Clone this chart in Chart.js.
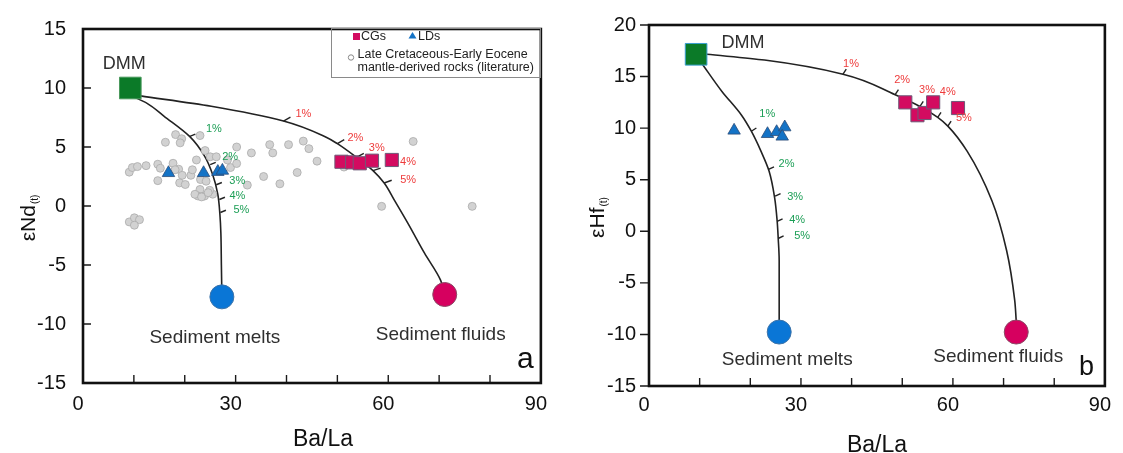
<!DOCTYPE html>
<html>
<head>
<meta charset="utf-8">
<script src="https://cdn.jsdelivr.net/npm/chart.js@4.4.0/dist/chart.umd.min.js"></script>
<style>
  html, body { margin: 0; padding: 0; background: #fff; }
  #wrap { position: relative; width: 1123px; height: 453px; overflow: hidden; }
  canvas { position: absolute; top: 0; }
  #panelA { left: 0; }
  #panelB { left: 562px; }
</style>
</head>
<body>
<div id="wrap">
  <canvas id="panelA" width="561" height="453"></canvas>
  <canvas id="panelB" width="561" height="453"></canvas>
</div>
<script>
// ---------- Panel a: εNd(t) vs Ba/La ----------
const litBaLa = [16.2, 18.2, 19.4, 19.1, 23.0, 9.1, 9.7, 10.7, 12.4, 14.7, 15.2, 14.7, 17.7, 18.8, 19.5, 19.0,
  20.1, 21.2, 21.5, 22.3, 24.0, 25.0, 26.2, 23.1, 24.2, 23.0, 22.6, 23.9, 25.5, 24.9, 9.1, 10.1, 11.1, 10.1,
  30.2, 33.1, 36.7, 37.3, 40.4, 43.3, 44.4, 46.0, 29.0, 30.2, 28.4, 35.5, 32.3, 38.7, 42.1, 64.9, 58.7, 76.5,
  51.3, 18.1, 22.0, 23.3, 24.6];
const litNd = [5.4, 6.05, 5.7, 5.35, 5.97, 2.87, 3.26, 3.34, 3.42, 3.54, 3.2, 2.15, 3.62, 3.12, 2.6, 1.96,
  1.82, 2.6, 3.07, 3.9, 4.7, 4.17, 4.17, 2.24, 2.1, 1.4, 0.85, 0.85, 1.0, 1.33, -1.35, -1.0, -1.16, -1.63,
  5.0, 4.5, 5.2, 4.5, 5.2, 5.5, 4.86, 3.8, 3.26, 3.6, 3.9, 2.5, 1.77, 1.88, 2.84, 5.47, -0.03, -0.03,
  3.3, 3.07, 0.99, 0.77, 1.13];
const cgBaLaA = [50.8, 52.9, 54.4, 56.8, 60.7];
const cgNd = [3.75, 3.70, 3.62, 3.84, 3.90];
const ldBaLaA = [16.8, 23.7, 26.5, 27.4];
const ldNd = [2.8, 2.8, 2.9, 3.0];
// end-members: DMM, sediment melts, sediment fluids
const endBaLaA = [9.3, 27.3, 71.1];
const endNd = [10.0, -7.7, -7.5];
const meltCurveBaLaA = [9.7, 12.6, 15.9, 21.0, 23.9, 25.5, 26.5, 26.9, 27.1, 27.2, 27.3];
const meltCurveNd = [9.3, 8.7, 7.62, 5.88, 4.23, 2.65, 0.99, -0.66, -2.3, -5.0, -7.7];
const fluidCurveBaLaA = [11.3, 25.2, 39.4, 47.8, 50.0, 53.6, 57.0, 59.2, 61.2, 63.9, 67.1, 70.3, 71.1];
const fluidCurveNd = [9.33, 8.45, 7.2, 5.83, 5.28, 4.17, 3.0, 1.95, 0.5, -1.49, -3.98, -6.3, -7.5];
const meltTickBaLaA = [21.0, 25.0, 26.2, 26.8, 27.0];
const meltTickNd = [5.9, 3.5, 1.8, 0.55, -0.55];
const fluidTickBaLaA = [39.4, 50.0, 53.8, 57.0, 59.2];
const fluidTickNd = [7.2, 5.28, 4.15, 3.0, 1.95];

// ---------- Panel b: εHf(t) vs Ba/La ----------
const cgBaLaB = [50.6, 53.0, 54.4, 56.1, 61.0];
const cgHf = [12.5, 11.25, 11.47, 12.5, 11.95];
const ldBaLaB = [16.8, 23.4, 25.2, 26.8, 26.3];
const ldHf = [9.77, 9.44, 9.63, 10.09, 9.19];
const endBaLaB = [9.3, 25.7, 72.5];
const endHf = [17.16, -9.77, -9.77];
const meltCurveBaLaB = [10.4, 14.4, 18.2, 20.2, 22.1, 23.7, 24.8, 25.3, 25.5, 25.7, 25.7];
const meltCurveHf = [16.3, 13.56, 11.3, 9.7, 7.77, 5.84, 3.27, 1.0, -0.6, -2.85, -8.6];
const fluidCurveBaLaB = [11.4, 22.8, 38.3, 48.6, 53.5, 57.0, 59.0, 62.8, 67.7, 70.6, 72.2, 72.5];
const fluidCurveHf = [17.16, 16.6, 15.23, 13.24, 12.1, 11.05, 10.2, 7.77, 2.96, -1.86, -6.7, -8.7];
const meltTickBaLaB = [20.2, 23.6, 24.9, 25.3, 25.5];
const meltTickHf = [9.7, 6.0, 3.4, 0.95, -0.7];
const fluidTickBaLaB = [38.3, 48.6, 53.5, 57.0, 59.0];
const fluidTickHf = [15.23, 13.24, 12.1, 11.05, 10.2];

// shared axis values
const percentLabels = ['1%', '2%', '3%', '4%', '5%'];
const baLaMinorTicks = [10, 20, 30, 40, 50, 60, 70, 80];
const endLabels = ['DMM', 'Sediment melts', 'Sediment fluids'];

const FONT = '"Liberation Sans", Arial, Helvetica, sans-serif';
const COLORS = {
  dmm: '#0b7a28', meltEnd: '#0a76d6', fluidEnd: '#d6005f',
  cg: '#d30b60', cgBorder: '#6e5a78', ld: '#1473c6', ldBorder: '#2c4c78',
  lit: '#d2d2d2', litBorder: '#ababab', curve: '#222222',
  green: '#1b9e55', red: '#ee3b3b', text: '#2f2f2f'
};

const zip = (xs, ys) => xs.map((x, i) => ({ x, y: ys[i] }));

function decorPlugin(p) {
  return {
    id: 'panelDecor',
    afterDatasetsDraw(chart) {
      const ctx = chart.ctx, a = chart.chartArea;
      const xs = chart.scales.x, ys = chart.scales.y;
      ctx.save();
      // axis tick marks
      ctx.strokeStyle = '#1a1a1a';
      ctx.lineWidth = 1.4;
      ctx.beginPath();
      baLaMinorTicks.forEach(v => {
        const px = xs.getPixelForValue(v);
        ctx.moveTo(px, a.bottom); ctx.lineTo(px, a.bottom - 8);
      });
      ys.ticks.forEach(t => {
        const py = ys.getPixelForValue(t.value);
        if (p.yTicksInside) {
          if (t.value === ys.min || t.value === ys.max) return;
          ctx.moveTo(a.left, py); ctx.lineTo(a.left + 8, py);
        } else {
          ctx.moveTo(a.left - 9, py); ctx.lineTo(a.left, py);
        }
      });
      ctx.stroke();
      // frame
      ctx.lineWidth = 2.6;
      ctx.strokeStyle = '#111';
      ctx.strokeRect(a.left, a.top, a.right - a.left, a.bottom - a.top);

      // percentage labels beside the curve ticks
      ctx.font = '11px ' + FONT;
      ctx.textAlign = 'center';
      ctx.textBaseline = 'middle';
      const pct = (txs, tys, offs, color) => {
        ctx.fillStyle = color;
        txs.forEach((x, i) => {
          const px = xs.getPixelForValue(x), py = ys.getPixelForValue(tys[i]);
          ctx.fillText(percentLabels[i], px + offs[i][0], py + offs[i][1]);
        });
      };
      pct(p.meltTickX, p.meltTickY, p.meltLabelOffsets, COLORS.green);
      pct(p.fluidTickX, p.fluidTickY, p.fluidLabelOffsets, COLORS.red);

      // end-member names
      ctx.fillStyle = COLORS.text;
      endLabels.forEach((t, i) => {
        const px = xs.getPixelForValue(p.endX[i]), py = ys.getPixelForValue(p.endY[i]);
        const o = p.endLabelOffsets[i];
        ctx.font = o[2] + 'px ' + FONT;
        ctx.fillText(t, px + o[0], py + o[1]);
      });

      // panel letter
      ctx.fillStyle = '#111';
      ctx.textAlign = 'left';
      ctx.textBaseline = 'alphabetic';
      ctx.font = p.letterSize + 'px ' + FONT;
      ctx.fillText(p.letter, a.right + p.letterPos[0], a.bottom + p.letterPos[1]);

      // x-axis title
      ctx.textAlign = 'center';
      ctx.font = '23px ' + FONT;
      ctx.fillText('Ba/La', (a.left + a.right) / 2 + p.xTitlePos[0], a.bottom + p.xTitlePos[1]);

      // y-axis title with subscript
      ctx.save();
      ctx.translate(a.left + p.yTitlePos[0], (a.top + a.bottom) / 2 + p.yTitlePos[1]);
      ctx.rotate(-Math.PI / 2);
      ctx.textAlign = 'left';
      ctx.font = '21px ' + FONT;
      const w1 = ctx.measureText(p.yTitle).width;
      ctx.font = '10px ' + FONT;
      const w2 = ctx.measureText('(t)').width;
      const start = -(w1 + w2 + 1) / 2;
      ctx.font = '21px ' + FONT;
      ctx.fillText(p.yTitle, start, 0);
      ctx.font = '10px ' + FONT;
      ctx.fillText('(t)', start + w1 + 1, 3);
      ctx.restore();

      // legend box
      if (p.legend) {
        const L = p.legend;
        ctx.lineWidth = 1;
        ctx.strokeStyle = '#8a8a8a';
        ctx.strokeRect(L.x + 0.5, L.y + 0.5, L.w, L.h);
        ctx.fillStyle = COLORS.cg;
        ctx.fillRect(L.x + 22, L.y + 5, 7, 7);
        ctx.fillStyle = COLORS.ld;
        ctx.beginPath();
        ctx.moveTo(L.x + 81.5, L.y + 4); ctx.lineTo(L.x + 85.5, L.y + 10.5); ctx.lineTo(L.x + 77.5, L.y + 10.5);
        ctx.closePath(); ctx.fill();
        ctx.fillStyle = '#fff'; ctx.strokeStyle = '#888';
        ctx.beginPath(); ctx.arc(L.x + 20, L.y + 29.5, 2.7, 0, Math.PI * 2); ctx.fill(); ctx.stroke();
        ctx.fillStyle = '#222';
        ctx.font = '12.5px ' + FONT;
        ctx.textAlign = 'left';
        ctx.textBaseline = 'middle';
        ctx.fillText('CGs', L.x + 30, L.y + 9);
        ctx.fillText('LDs', L.x + 87, L.y + 8.5);
        ctx.fillText('Late Cretaceous-Early Eocene', L.x + 26.5, L.y + 27);
        ctx.fillText('mantle-derived rocks (literature)', L.x + 26.5, L.y + 39.5);
      }
      ctx.restore();
    }
  };
}

function curveDataset(xs, ys) {
  // mixing curves run monotonically downward from DMM, so interpolate along the y axis
  return {
    data: zip(xs, ys),
    indexAxis: 'y',
    showLine: true, pointRadius: 0,
    borderColor: COLORS.curve, borderWidth: 1.6,
    cubicInterpolationMode: 'monotone'
  };
}

function buildPanel(canvasId, p) {
  const datasets = [
    {
      data: zip(p.endX, p.endY),
      pointStyle: ['rect', 'circle', 'circle'],
      pointRadius: [15.3, 12, 12],
      pointBackgroundColor: [COLORS.dmm, COLORS.meltEnd, COLORS.fluidEnd],
      pointBorderColor: [p.dmmBorder, '#3d73a8', '#8a4a66'],
      pointBorderWidth: 1
    },
    {
      data: zip(p.cgX, p.cgY),
      pointStyle: 'rect', pointRadius: 9.3,
      pointBackgroundColor: COLORS.cg, pointBorderColor: COLORS.cgBorder, pointBorderWidth: 1
    },
    {
      data: zip(p.ldX, p.ldY),
      pointStyle: 'triangle', pointRadius: 7.2,
      pointBackgroundColor: COLORS.ld, pointBorderColor: COLORS.ldBorder, pointBorderWidth: 0.8
    }
  ];
  if (p.litX) {
    datasets.push({
      data: zip(p.litX, p.litY),
      pointStyle: 'circle', pointRadius: 4,
      pointBackgroundColor: COLORS.lit, pointBorderColor: COLORS.litBorder, pointBorderWidth: 0.8
    });
  }
  datasets.push(
    {
      data: zip(p.meltTickX, p.meltTickY),
      pointStyle: 'dash', pointRadius: 6, pointRotation: p.meltTickAngle,
      pointBorderColor: COLORS.curve, pointBorderWidth: 1.4
    },
    {
      data: zip(p.fluidTickX, p.fluidTickY),
      pointStyle: 'dash', pointRadius: p.fluidTickLen, pointRotation: p.fluidTickAngle,
      pointBorderColor: COLORS.curve, pointBorderWidth: 1.4
    },
    curveDataset(p.meltCurveX, p.meltCurveY),
    curveDataset(p.fluidCurveX, p.fluidCurveY)
  );

  return new Chart(document.getElementById(canvasId), {
    type: 'scatter',
    data: { datasets },
    options: {
      responsive: false,
      animation: false,
      devicePixelRatio: 1,
      layout: { padding: { left: 0, right: p.padRight, top: p.padTop, bottom: 0 } },
      plugins: { legend: { display: false }, tooltip: { enabled: false } },
      scales: {
        x: {
          type: 'linear', min: 0, max: 90,
          grid: { display: false, drawTicks: false },
          border: { display: false },
          ticks: { stepSize: 30, padding: p.xTickPad, labelOffset: -5, color: '#111', font: { family: FONT, size: 20 } },
          afterFit: s => { s.height = p.xAxisHeight; }
        },
        y: {
          type: 'linear', min: p.yMin, max: p.yMax,
          grid: { display: false, drawTicks: false },
          border: { display: false },
          ticks: { stepSize: 5, padding: p.yTickPad, color: '#111', font: { family: FONT, size: 20 } },
          afterFit: s => { s.width = p.yAxisWidth; }
        }
      }
    },
    plugins: [decorPlugin(p)]
  });
}

buildPanel('panelA', {
  endX: endBaLaA, endY: endNd, cgX: cgBaLaA, cgY: cgNd, ldX: ldBaLaA, ldY: ldNd,
  litX: litBaLa, litY: litNd,
  meltCurveX: meltCurveBaLaA, meltCurveY: meltCurveNd,
  fluidCurveX: fluidCurveBaLaA, fluidCurveY: fluidCurveNd,
  meltTickX: meltTickBaLaA, meltTickY: meltTickNd,
  fluidTickX: fluidTickBaLaA, fluidTickY: fluidTickNd,
  meltTickAngle: -22, fluidTickAngle: [-29, -31, -27, -18, -20], fluidTickLen: 8,
  meltLabelOffsets: [[24, -7], [20, -8], [21, -4], [18, -4], [21, -3]],
  fluidLabelOffsets: [[20, -7], [18, -6], [20, -9], [35, -9], [24, -3]],
  endLabelOffsets: [[-6, -24, 18], [-7, 41, 19], [-4, 40, 19]],
  dmmBorder: '#4b9a5e',
  yMin: -15, yMax: 15, yTitle: 'εNd', yTicksInside: true,
  padRight: 13, padTop: 21, yAxisWidth: 83, xAxisHeight: 70, xTickPad: 9, yTickPad: 17,
  letter: 'a', letterSize: 30, letterPos: [-24, -15],
  xTitlePos: [11, 63], yTitlePos: [-48, 12],
  legend: { x: 331, y: 28, w: 209, h: 49 }
});

buildPanel('panelB', {
  endX: endBaLaB, endY: endHf, cgX: cgBaLaB, cgY: cgHf, ldX: ldBaLaB, ldY: ldHf,
  meltCurveX: meltCurveBaLaB, meltCurveY: meltCurveHf,
  fluidCurveX: fluidCurveBaLaB, fluidCurveY: fluidCurveHf,
  meltTickX: meltTickBaLaB, meltTickY: meltTickHf,
  fluidTickX: fluidTickBaLaB, fluidTickY: fluidTickHf,
  meltTickAngle: [-33, -25, -25, -25, -25], fluidTickAngle: -57, fluidTickLen: 6,
  meltLabelOffsets: [[16, -17], [18, -5], [20, 1], [20, -2], [24, -3]],
  fluidLabelOffsets: [[8, -10], [7, -15], [7, -17], [10, -25], [16, -8]],
  endLabelOffsets: [[47, -11, 18], [8, 28, 19], [-18, 25, 19]],
  dmmBorder: '#3a9fd0',
  yMin: -15, yMax: 20, yTitle: 'εHf', yTicksInside: false,
  padRight: 10, padTop: 23, yAxisWidth: 87, xAxisHeight: 67, xTickPad: 7, yTickPad: 13,
  letter: 'b', letterSize: 27, letterPos: [-26, -11],
  xTitlePos: [0, 66], yTitlePos: [-45, 12]
});
</script>
</body>
</html>
